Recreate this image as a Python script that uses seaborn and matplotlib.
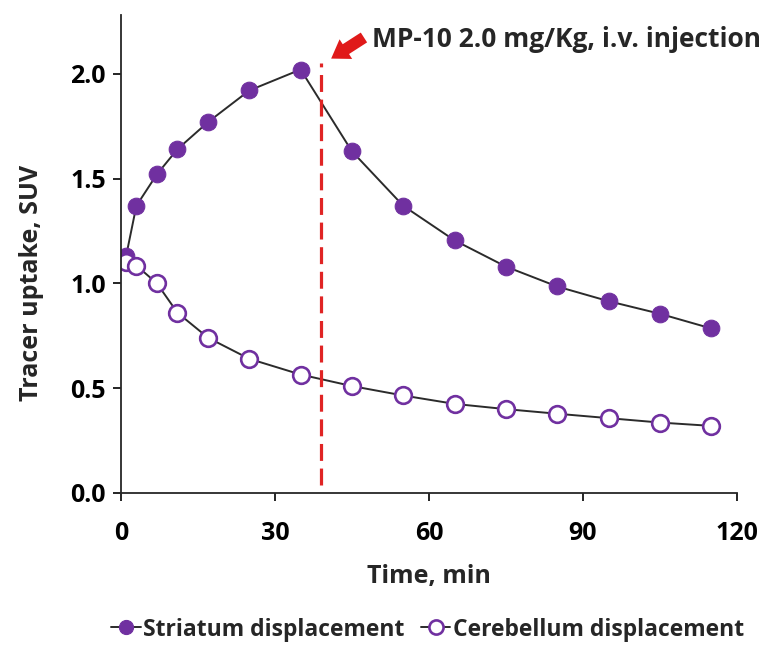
import seaborn as sns
import pandas as pd
import matplotlib
matplotlib.use("Agg")
import matplotlib.pyplot as plt

# valores
time_min = [1, 3, 7, 11, 17, 25, 35, 45, 55, 65, 75, 85, 95, 105, 115]
striatum = [1.13, 1.37, 1.52, 1.64, 1.77, 1.92, 2.02, 1.63, 1.37, 1.205, 1.08, 0.985, 0.915, 0.855, 0.785]
cerebellum = [1.10, 1.085, 1.0, 0.86, 0.74, 0.64, 0.565, 0.51, 0.465, 0.425, 0.40, 0.378, 0.357, 0.336, 0.32]
injection_time = 39
x_ticks = [0, 30, 60, 90, 120]
y_ticks = [0.0, 0.5, 1.0, 1.5, 2.0]
annotation = "MP-10 2.0 mg/Kg, i.v. injection"

df = pd.DataFrame({"Time": time_min, "Striatum": striatum, "Cerebellum": cerebellum})

sns.set_style("ticks")
plt.rcParams['font.family'] = ['Open Sans', 'DejaVu Sans']
plt.rcParams['font.weight'] = 'bold'

purple = "#7030A0"
line_col = "#2b2b2b"

fig = plt.figure(figsize=(7.83, 6.45), dpi=100)
ax = fig.add_axes([0.1545, 0.2357, 0.7865, 0.741])

sns.lineplot(data=df, x="Time", y="Striatum", ax=ax, color=line_col, linewidth=1.4,
             marker="o", markersize=12, markerfacecolor=purple, markeredgecolor=purple,
             label="Striatum displacement")
sns.lineplot(data=df, x="Time", y="Cerebellum", ax=ax, color=line_col, linewidth=1.4,
             marker="o", markersize=12, markerfacecolor="white", markeredgecolor=purple,
             markeredgewidth=1.9, label="Cerebellum displacement")

# linha tracejada da injeção + seta
ax.plot([injection_time, injection_time], [0.04, 2.05], color="#E02424", linewidth=2.3,
        dashes=(5.3, 2.4))
ax.annotate("", xy=(40.5, 2.065), xytext=(47.8, 2.18),
            arrowprops=dict(arrowstyle="simple,head_length=0.6,head_width=0.8,tail_width=0.4",
                            color="#E01A1A", lw=0, mutation_scale=21))
ax.text(48.9, 2.165, annotation, fontsize=19, fontweight='bold', va='center', ha='left',
        clip_on=False)

ax.set_xlim(0, 120)
ax.set_ylim(0, 2.28)
ax.set_xticks(x_ticks)
ax.set_yticks(y_ticks)
ax.set_yticklabels([f"{v:.1f}" for v in y_ticks])
ax.tick_params(axis='both', labelsize=18, direction='out', length=6, width=1.2, colors='black')
ax.tick_params(axis='x', pad=14)
ax.tick_params(axis='y', pad=5)
for lab in ax.get_xticklabels() + ax.get_yticklabels():
    lab.set_fontweight('bold')
ax.spines['left'].set_linewidth(1.3)
ax.spines['bottom'].set_linewidth(1.3)
sns.despine(ax=ax)

ax.set_xlabel("Time, min", fontsize=18, fontweight='bold', labelpad=13)
ax.set_ylabel("Tracer uptake, SUV", fontsize=18, fontweight='bold')
ax.yaxis.set_label_coords(-0.125, 0.44)

handles, labels = ax.get_legend_handles_labels()
ax.get_legend().remove()
fig.legend(handles, labels, loc='center', bbox_to_anchor=(0.546, 0.024), ncol=2,
           frameon=False, handlelength=1.3, handletextpad=0.1, markerscale=0.85,
           columnspacing=0.7, prop={'weight': 'bold', 'size': 16.5})

fig.savefig("out.png", dpi=100)
